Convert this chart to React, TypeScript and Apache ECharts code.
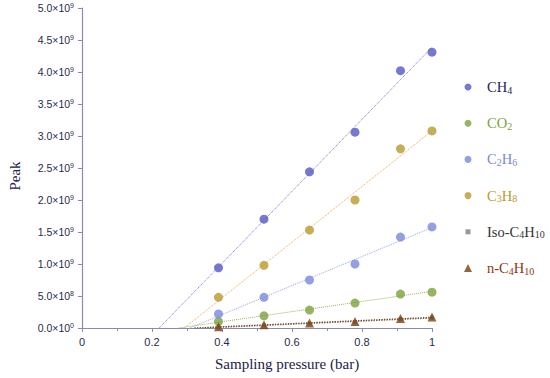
import React, { useEffect, useRef } from "react";
import * as echarts from "echarts";

const pressures = [0.39, 0.52, 0.65, 0.78, 0.91, 1.0];
const ch4 = [0.94e9, 1.7e9, 2.44e9, 3.06e9, 4.02e9, 4.31e9];
const co2 = [0.1e9, 0.19e9, 0.28e9, 0.39e9, 0.53e9, 0.56e9];
const c2h6 = [0.22e9, 0.48e9, 0.75e9, 1.0e9, 1.42e9, 1.58e9];
const c3h8 = [0.48e9, 0.98e9, 1.53e9, 2.0e9, 2.8e9, 3.08e9];
const isoC4h10 = [0.015e9, 0.04e9, 0.07e9, 0.09e9, 0.14e9, 0.16e9];
const nC4h10 = [0.02e9, 0.05e9, 0.08e9, 0.1e9, 0.15e9, 0.17e9];

const seriesNames = ["CH4", "CO2", "C2H6", "C3H8", "Iso-C4H10", "n-C4H10"];
const legendLabels: Record<string, string> = {
  CH4: "CH{s|4}",
  CO2: "CO{s|2}",
  C2H6: "C{s|2}H{s|6}",
  C3H8: "C{s|3}H{s|8}",
  "Iso-C4H10": "Iso-C{s|4}H{s|10}",
  "n-C4H10": "n-C{s|4}H{s|10}",
};
const yTickValues = [0, 0.5e9, 1e9, 1.5e9, 2e9, 2.5e9, 3e9, 3.5e9, 4e9, 4.5e9, 5e9];

const markerColors = ["#5458c4", "#7aa33c", "#7a88dc", "#b89a2c", "#808080", "#7a3e10"];
const lineColors = ["#7070d0", "#9ab45a", "#95a4e4", "#e8a850", "#8a7060", "#6a4a20"];
const textColors = ["#22225e", "#7aa33c", "#7a88dc", "#b89a2c", "#333333", "#8a3a10"];
const symbols = ["circle", "circle", "circle", "circle", "rect", "triangle"];
const symbolSizes = [9, 9, 9, 9, 4, 9];
const legendIconSizes = [7, 7, 7, 7, 5, 8];

function fit(xs: number[], ys: number[]) {
  const n = xs.length;
  const mx = xs.reduce((a, b) => a + b, 0) / n;
  const my = ys.reduce((a, b) => a + b, 0) / n;
  let sxy = 0, sxx = 0;
  for (let i = 0; i < n; i++) {
    sxy += (xs[i] - mx) * (ys[i] - my);
    sxx += (xs[i] - mx) * (xs[i] - mx);
  }
  const slope = sxy / sxx;
  const icpt = my - slope * mx;
  return { slope, icpt };
}

function fmtTick(v: number) {
  if (v === 0) return "{m|0.0×10}{e|0}";
  const exp = Math.floor(Math.log10(v) + 1e-9);
  const mant = v / Math.pow(10, exp);
  return "{m|" + mant.toFixed(1) + "×10}{e|" + exp + "}";
}

export default function App() {
  const ref = useRef<HTMLDivElement>(null);
  useEffect(() => {
    if (!ref.current) return;
    const chart = echarts.init(ref.current, null, { renderer: "svg" });
    const allData = [ch4, co2, c2h6, c3h8, isoC4h10, nC4h10];
    const scatterSeries = allData.map((ys, i) => ({
      name: seriesNames[i],
      type: "scatter",
      symbol: symbols[i],
      symbolSize: symbolSizes[i],
      itemStyle: { color: markerColors[i] },
      data: pressures.map((x, j) => [x, ys[j]]),
      z: 3,
    }));
    const lineSeries = allData.map((ys, i) => {
      const { slope, icpt } = fit(pressures, ys);
      const x0 = -icpt / slope;
      return {
        name: seriesNames[i] + " fit",
        type: "line",
        symbol: "none",
        silent: true,
        lineStyle: { color: lineColors[i], width: i >= 4 ? 1.3 : 1, type: "dotted" },
        data: [
          [x0, 0],
          [1, slope * 1 + icpt],
        ],
        z: 2,
      };
    });
    const legends = seriesNames.map((n, i) => ({
      orient: "vertical",
      left: 463 - legendIconSizes[i] / 2,
      top: 81.5 + i * 36.2 - 7,
      itemWidth: legendIconSizes[i],
      itemHeight: legendIconSizes[i],
      selectedMode: false,
      data: [
        {
          name: n,
          icon: symbols[i],
          itemStyle: { color: markerColors[i] },
        },
      ],
      formatter: (nm: string) => legendLabels[nm] || nm,
      textStyle: {
        color: textColors[i],
        fontFamily: "Liberation Serif",
        fontSize: 14.5,
        padding: [0, 0, 0, 19 - 5 - legendIconSizes[i] / 2],
        rich: {
          s: { color: textColors[i], fontFamily: "Liberation Serif", fontSize: 10, verticalAlign: "bottom", padding: [6, 0, 0, 0] },
        },
      },
    }));
    chart.setOption({
      animation: false,
      grid: { left: 82, right: 118, top: 8, bottom: 50 },
      xAxis: {
        type: "value",
        min: 0,
        max: 1,
        interval: 0.2,
        axisLine: { lineStyle: { color: "#8a8aae", width: 1.2 } },
        axisTick: { show: true, length: 4, lineStyle: { color: "#8a8aae" } },
        minorTick: { show: true, splitNumber: 2, length: 3, lineStyle: { color: "#8a8aae" } },
        splitLine: { show: false },
        axisLabel: {
          color: "#2a2a4a",
          fontFamily: "Liberation Sans",
          fontSize: 11,
          margin: 8,
          formatter: (v: number) => (v === 0 || v === 1 ? String(v) : v.toFixed(1)),
        },
      },
      yAxis: {
        type: "value",
        min: 0,
        max: 5e9,
        interval: 0.5e9,
        axisLine: { show: true, lineStyle: { color: "#8a8aae", width: 1.2 } },
        axisTick: { show: true, length: 4, lineStyle: { color: "#8a8aae" } },
        splitLine: { show: false },
        axisLabel: {
          color: "#2a2a4a",
          margin: 8,
          formatter: (v: number) => (yTickValues.indexOf(v) >= 0 ? fmtTick(v) : ""),
          rich: {
            m: { fontFamily: "Liberation Sans", fontSize: 10.5, color: "#2a2a4a" },
            e: { fontFamily: "Liberation Sans", fontSize: 7, color: "#2a2a4a", verticalAlign: "top", padding: [0, 0, 6, 0] },
          },
        },
      },
      legend: legends,
      graphic: [
        {
          type: "text",
          left: 215,
          top: 356,
          style: { text: "Sampling pressure (bar)", font: "15px 'Liberation Serif'", fill: "#22224a" },
        },
        {
          type: "text",
          x: 15,
          y: 176,
          rotation: Math.PI / 2,
          style: { text: "Peak", font: "15px 'Liberation Serif'", fill: "#22224a", align: "center", verticalAlign: "middle" },
        },
      ],
      series: [...lineSeries, ...scatterSeries],
    });
    return () => chart.dispose();
  }, []);
  return <div ref={ref} style={{ width: 550, height: 378, position: "absolute", left: 0, top: 0 }} />;
}
